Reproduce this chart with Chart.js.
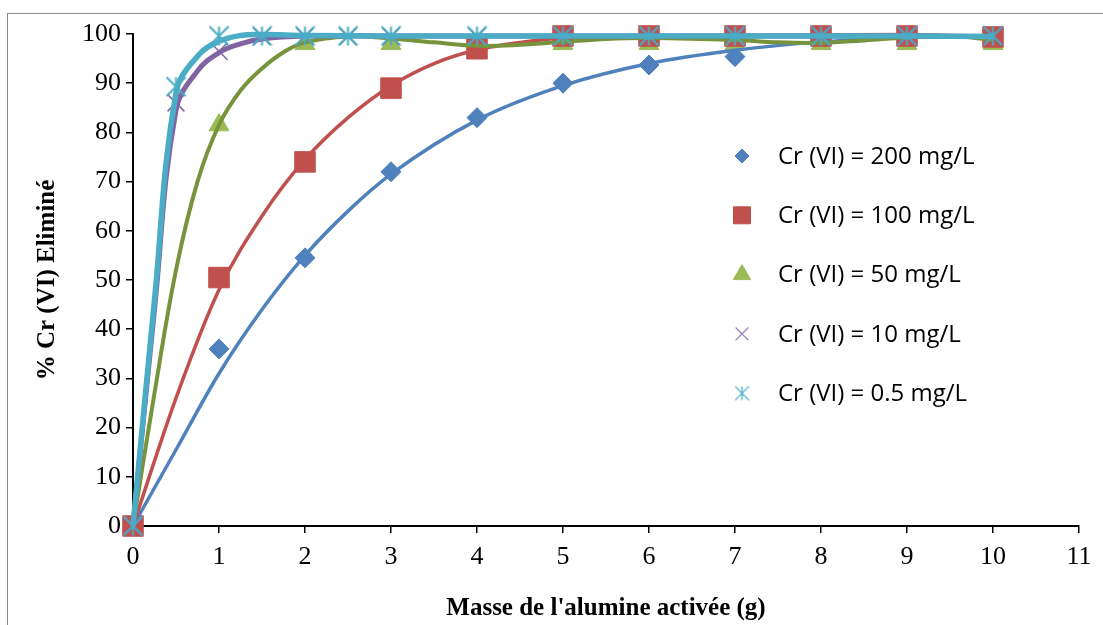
<!DOCTYPE html>
<html>
<head>
<meta charset="utf-8">
<script src="https://cdn.jsdelivr.net/npm/chart.js@4.4.1/dist/chart.umd.min.js"></script>
<style>
  html, body { margin: 0; padding: 0; background: #fff; overflow: hidden; }
  #frame { position: absolute; left: 7px; top: 13px; width: 1200px; height: 700px;
           border: 1.5px solid #8a8a8a; box-sizing: border-box; }
  #wrap { position: absolute; left: 0; top: 0; width: 1103px; height: 625px; }
</style>
</head>
<body>
<div id="frame"></div>
<div id="wrap"><canvas id="chart" width="1103" height="625"></canvas></div>
<script>
// measured points
const massCoarse = [0, 1, 2, 3, 4, 5, 6, 7, 8, 9, 10]
const massFine = [0, 0.5, 1, 1.5, 2, 2.5, 3, 4, 5, 6, 7, 8, 9, 10]

const cr200 = [0, 36, 54.5, 72, 83, 90, 93.7, 95.4, 99, 99.5, 99.5]
const cr100 = [0, 50.5, 74, 89, 97, 99.6, 99.6, 99.6, 99.6, 99.6, 99.4]
const cr50 = [0, 81.5, 98, 98, 98, 98, 98, 98, 98, 98, 98]
const cr10 = [0, 86, 96.5, 99.5, 99.5, 99.5, 99.5, 99.5, 99.5, 99.5, 99.5, 99.5, 99.5, 99.5]
const cr05 = [0, 89.3, 99.6, 99.6, 99.6, 99.6, 99.6, 99.6, 99.6, 99.6, 99.6, 99.6, 99.6, 99.6]

// fitted curves
const fitX200 = [0, 0.5, 1, 1.5, 2, 2.5, 3, 4, 5, 6, 7, 8, 9, 10]
const fit200 = [0, 15.5, 31, 44, 55, 64, 71.5, 82.5, 89.5, 94, 96.7, 98.4, 99.3, 99.6]
const fitX100 = [0, 0.5, 1, 1.5, 2, 2.5, 3, 3.5, 4, 4.5, 5, 6, 7, 8, 9, 10]
const fit100 = [0, 26, 48, 63, 74.5, 83, 89.5, 94, 96.8, 98.3, 99.2, 99.6, 99.7, 99.8, 99.9, 99.3]
const fitX50 = [0, 0.25, 0.5, 0.75, 1, 1.25, 1.5, 1.75, 2, 2.5, 3, 3.5, 4, 4.5, 5, 5.5, 6, 7, 7.5, 8, 8.5, 9, 9.5, 10]
const fit50 = [0, 27, 52, 70, 81.5, 88.5, 93, 96.3, 98.3, 99.5, 99.1, 98.3, 97.6, 97.8, 98.4, 99, 99.2, 98.8, 98.3, 98.2, 98.7, 99.3, 99.6, 98.8]
const fitX10 = [0, 0.25, 0.5, 0.75, 1, 1.25, 1.5, 2, 3, 4, 5, 6, 7, 8, 9, 10]
const fit10 = [0, 44, 84.5, 92.5, 96.2, 98, 99, 99.6, 99.6, 99.6, 99.6, 99.6, 99.6, 99.6, 99.6, 99.5]
const fitX05 = [0, 0.25, 0.5, 0.75, 1, 1.25, 1.5, 2, 3, 4, 5, 6, 7, 8, 9, 10]
const fit05 = [0, 46, 88, 95.5, 98.5, 99.7, 99.9, 99.7, 99.6, 99.6, 99.6, 99.6, 99.6, 99.6, 99.6, 99.5]

const seriesLabels = [
  'Cr (VI) = 200 mg/L',
  'Cr (VI) = 100 mg/L',
  'Cr (VI) = 50 mg/L',
  'Cr (VI) = 10 mg/L',
  'Cr (VI) = 0.5 mg/L'
]

const xTicks = [0, 1, 2, 3, 4, 5, 6, 7, 8, 9, 10, 11]
const yTicks = [0, 10, 20, 30, 40, 50, 60, 70, 80, 90, 100]

const xTitle = "Masse de l'alumine activée (g)"
const yTitle = '% Cr (VI) Eliminé'

function pairs (xs, ys) {
  return xs.map((x, i) => ({ x: x, y: ys[i] }))
}

// asterisk marker (vertical bar + X), like the spreadsheet "star"
function makeStar (size, color, lw) {
  const c = document.createElement('canvas')
  c.width = size
  c.height = size
  const g = c.getContext('2d')
  const m = size / 2
  const r = m - lw / 2
  g.strokeStyle = color
  g.lineWidth = lw
  g.beginPath()
  g.moveTo(m, m - r); g.lineTo(m, m + r)
  g.moveTo(m - r, m - r); g.lineTo(m + r, m + r)
  g.moveTo(m + r, m - r); g.lineTo(m - r, m + r)
  g.stroke()
  return c
}

const starBig = makeStar(21, '#4BACC6', 2)
const starSmall = makeStar(15, '#4BACC6', 1.3)

const serif = "'Liberation Serif', 'Times New Roman', serif"

function markers (label, xs, ys, style, radius, fill, bw, order, legend) {
  return {
    label: label,
    data: pairs(xs, ys),
    showLine: false,
    pointStyle: style,
    pointRadius: radius,
    pointHoverRadius: radius,
    pointBackgroundColor: fill,
    pointBorderColor: fill,
    pointBorderWidth: bw,
    clip: false,
    order: order,
    legendMarker: legend
  }
}

function curve (xs, ys, color, width, mode, order) {
  return {
    label: '',
    data: pairs(xs, ys),
    showLine: true,
    borderColor: color,
    borderWidth: width,
    pointRadius: 0,
    pointHoverRadius: 0,
    tension: 0.4,
    cubicInterpolationMode: mode,
    clip: false,
    order: order
  }
}

const datasets = [
  markers(seriesLabels[0], massCoarse, cr200, 'rectRot', 10, '#4F81BD', 1, 20,
    { pointStyle: 'rectRot', radius: 7, borderWidth: 1, fill: '#4F81BD' }),
  markers(seriesLabels[1], massCoarse, cr100, 'rect', 14.5, '#C0504D', 1, 18,
    { pointStyle: 'rect', radius: 12, borderWidth: 1, fill: '#C0504D' }),
  markers(seriesLabels[2], massCoarse, cr50, 'triangle', 11.5, '#9BBB59', 1, 19,
    { pointStyle: 'triangle', radius: 10, borderWidth: 1, fill: '#9BBB59' }),
  markers(seriesLabels[3], massFine, cr10, 'crossRot', 12, '#8064A2', 1.5, 17,
    { pointStyle: 'crossRot', radius: 9, borderWidth: 1.2, fill: '#9A86B8' }),
  markers(seriesLabels[4], massFine, cr05, starBig, 10, '#4BACC6', 1, 1,
    { pointStyle: starSmall, radius: 7, borderWidth: 0, fill: '#4BACC6' }),

  curve(fitX200, fit200, '#4F81BD', 3.5, 'monotone', 10),
  curve(fitX100, fit100, '#C0504D', 3.5, 'monotone', 9),
  curve(fitX50, fit50, '#77933C', 4, 'default', 8),
  curve(fitX10, fit10, '#8064A2', 5, 'default', 7),
  curve(fitX05, fit05, '#4BACC6', 5.5, 'default', 6)
]

// legend drawn inside the plot area, right side
const insideLegend = {
  id: 'insideLegend',
  afterDraw (chart) {
    const ctx = chart.ctx
    const markerX = 742
    const textX = 778
    const top = 156
    const step = 59.3
    ctx.save()
    ctx.font = "24px 'Open Sans', sans-serif"
    ctx.textBaseline = 'middle'
    ctx.textAlign = 'left'
    chart.data.datasets.filter(ds => ds.legendMarker).forEach((ds, i) => {
      const y = top + i * step
      const m = ds.legendMarker
      ctx.fillStyle = m.fill
      ctx.strokeStyle = m.fill
      ctx.lineWidth = m.borderWidth
      Chart.helpers.drawPoint(ctx, { pointStyle: m.pointStyle, radius: m.radius, rotation: 0, borderWidth: m.borderWidth }, markerX, y)
      ctx.fillStyle = '#000'
      ctx.fillText(ds.label, textX, y + 1)
    })
    ctx.restore()
  }
}

const ctx = document.getElementById('chart')
new Chart(ctx, {
  type: 'scatter',
  data: { datasets: datasets },
  plugins: [insideLegend],
  options: {
    responsive: false,
    animation: false,
    events: [],
    layout: { padding: { left: 21, top: 34, right: 24, bottom: 0 } },
    plugins: {
      legend: { display: false },
      tooltip: { enabled: false }
    },
    scales: {
      x: {
        type: 'linear',
        min: 0,
        max: 11,
        afterBuildTicks: scale => { scale.ticks = xTicks.map(v => ({ value: v })) },
        afterFit: scale => { scale.height = 99 },
        ticks: { color: '#000', font: { family: serif, size: 26 }, padding: 9, maxRotation: 0 },
        grid: { display: true, drawOnChartArea: false, drawTicks: true, tickLength: 7, color: '#000', lineWidth: 1.5 },
        border: { display: true, color: '#000', width: 2 },
        title: {
          display: true,
          text: xTitle,
          color: '#000',
          font: { family: serif, size: 25, weight: 'bold' },
          padding: { top: 0, bottom: 1 }
        }
      },
      y: {
        type: 'linear',
        min: 0,
        max: 100,
        afterBuildTicks: scale => { scale.ticks = yTicks.map(v => ({ value: v })) },
        afterFit: scale => { scale.width = 112 },
        ticks: { color: '#000', font: { family: serif, size: 26 }, padding: 5 },
        grid: { display: true, drawOnChartArea: false, drawTicks: true, tickLength: 7, color: '#000', lineWidth: 1.5 },
        border: { display: true, color: '#000', width: 2 },
        title: {
          display: true,
          text: yTitle,
          color: '#000',
          font: { family: serif, size: 25, weight: 'bold' },
          padding: { top: 12, bottom: 0 }
        }
      }
    }
  }
})
</script>
</body>
</html>
